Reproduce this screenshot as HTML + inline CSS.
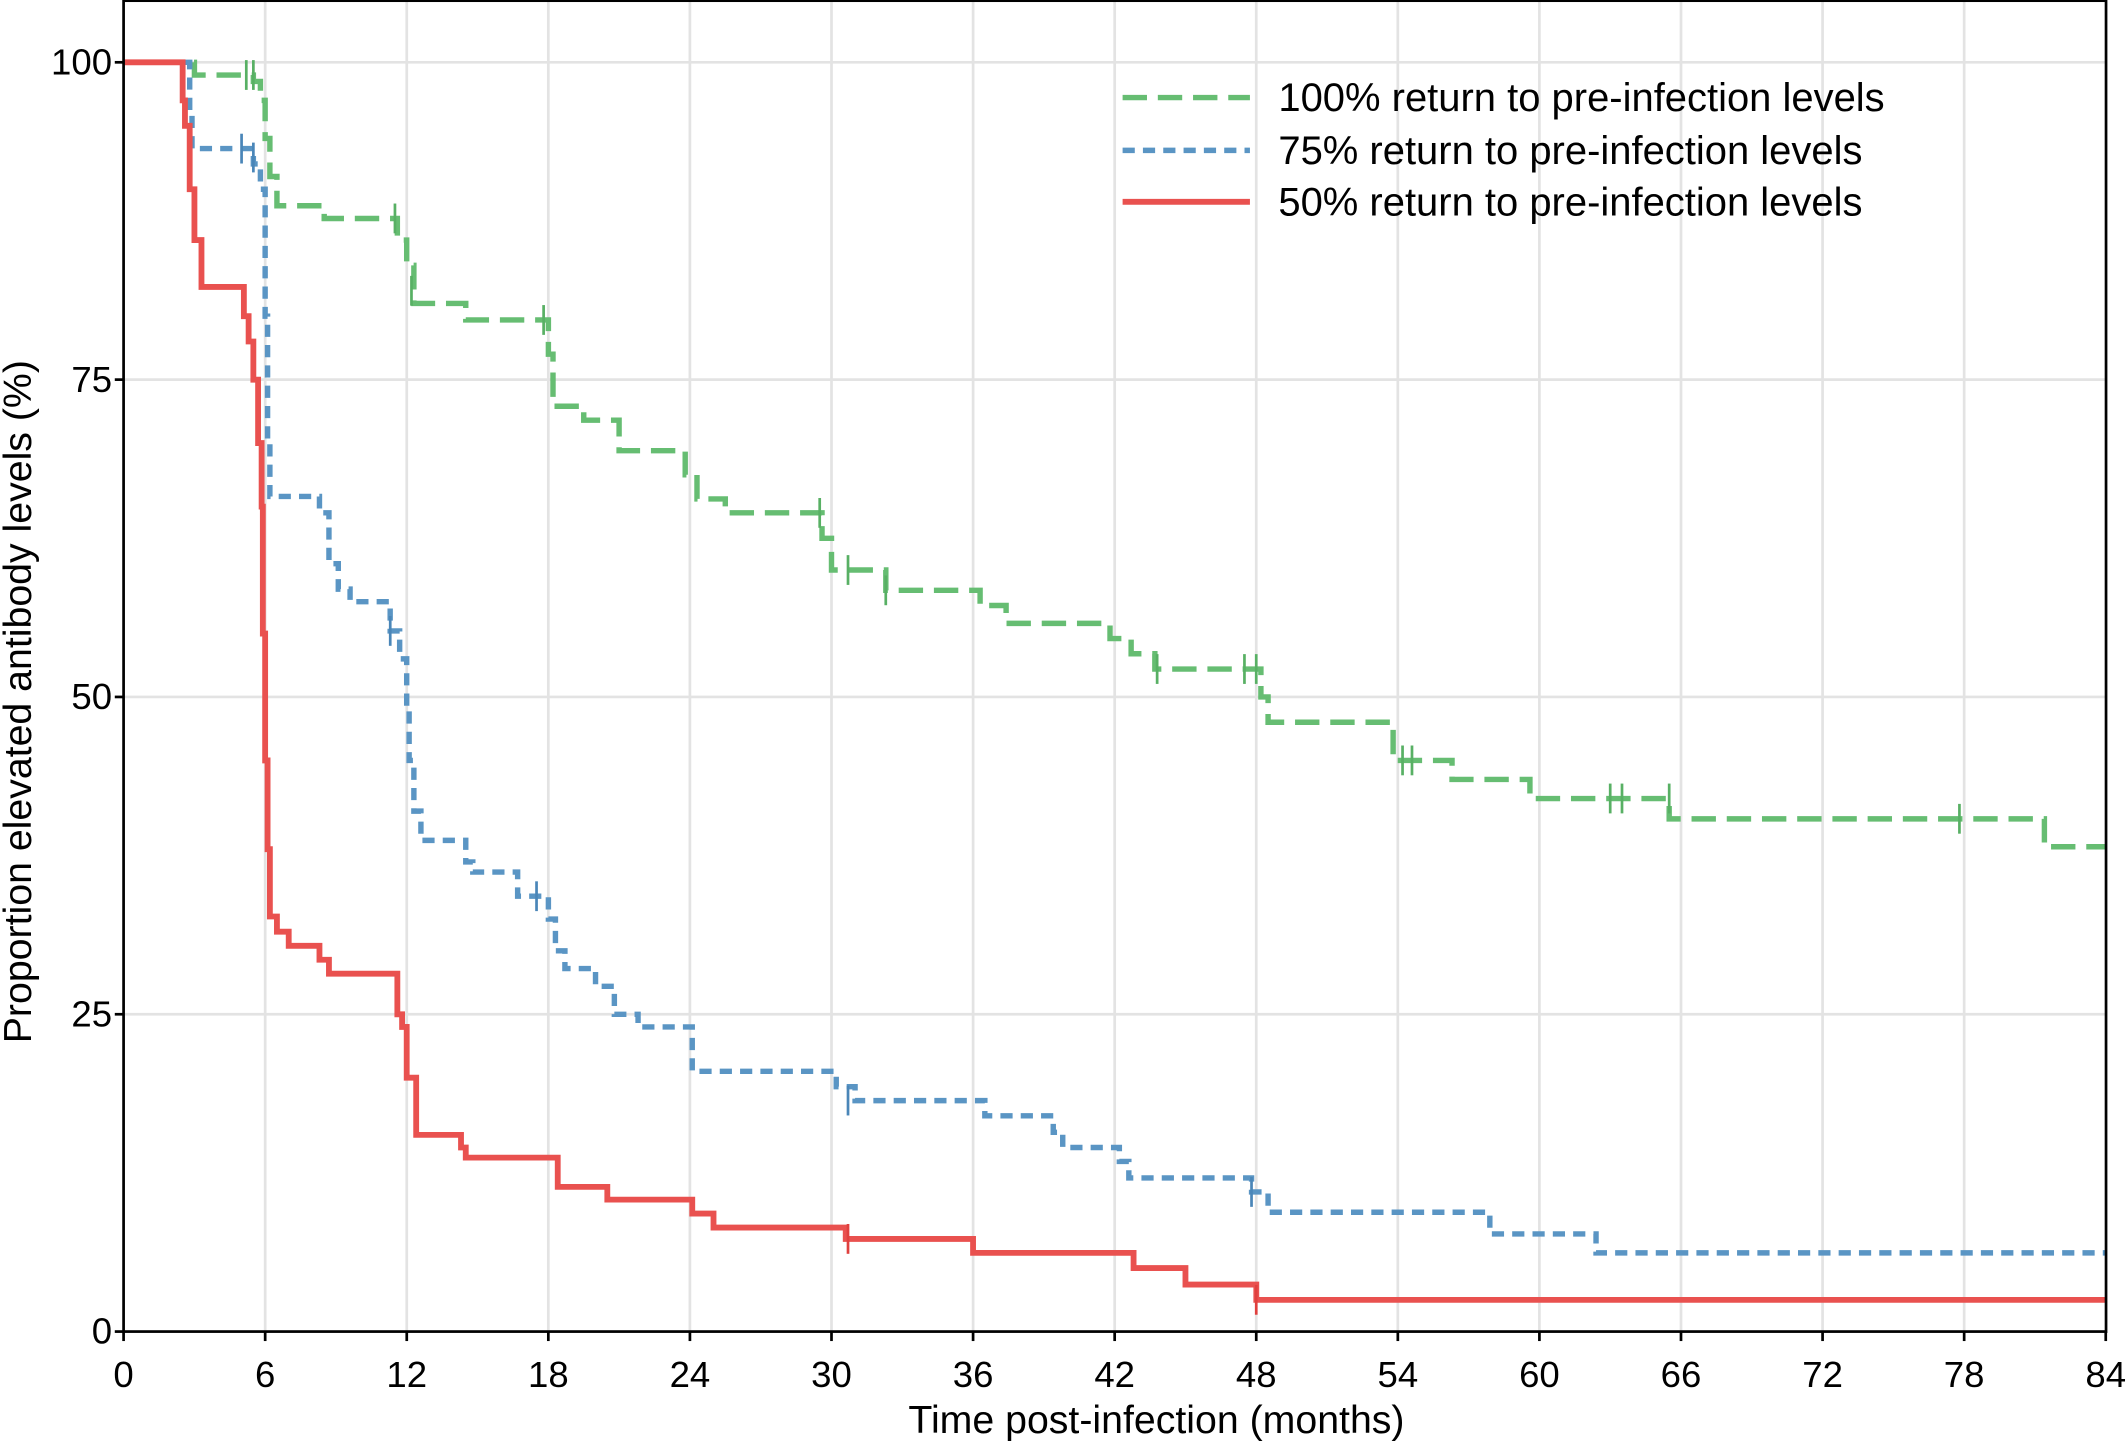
<!DOCTYPE html>
<html><head><meta charset="utf-8"><style>
html,body{margin:0;padding:0;background:#fff;}
svg{display:block;}
text{font-family:"Liberation Sans",Arial,sans-serif;fill:#000;}
</style></head><body>
<svg id="s" width="2126" height="1444" viewBox="0 0 1568 1066" xmlns="http://www.w3.org/2000/svg"></svg>
<script>
const NS="http://www.w3.org/2000/svg",S=document.getElementById('s');
const X=m=>90.5+m*17.42, Y=p=>983-p*9.37;
function el(t,a,txt){const e=document.createElementNS(NS,t);for(const k in a)e.setAttribute(k,a[k]);if(txt!==undefined)e.textContent=txt;S.appendChild(e);return e;}
for(let m=6;m<84;m+=6)el('line',{x1:X(m),x2:X(m),y1:0,y2:983,stroke:'#e3e3e3','stroke-width':2});
for(const p of [25,50,75,100])el('line',{x1:90.5,x2:1554,y1:Y(p),y2:Y(p),stroke:'#e3e3e3','stroke-width':2});
function step(pts){let d=`M${X(0)},${Y(100)}`;for(const [m,p] of pts){d+=`H${X(m).toFixed(1)}V${Y(p).toFixed(1)}`;}d+=`H${X(84)}`;return d;}
const green=[[3,99],[5.5,98.5],[5.8,97],[6,94],[6.2,91],[6.5,88.7],[8.5,87.7],[11.6,86],[12,84],[12.3,81],[14.5,79.7],[18,77],[18.2,72.9],[19.5,71.8],[21,69.4],[23.8,67.5],[24.3,65.6],[25.5,64.5],[29.6,62.5],[30,60],[32.3,58.4],[36.3,57.2],[37.4,55.8],[41.8,54.6],[42.7,53.4],[43.7,52.2],[48.2,50],[48.5,48],[53.8,45],[56.3,43.5],[59.6,42],[65.5,40.4],[81.4,38.2]];
const blue=[[2.8,96],[2.9,93.2],[5.5,92],[5.8,90],[6,80],[6.1,70],[6.2,65.8],[8.3,64.5],[8.7,60.5],[9.1,58.5],[9.6,57.5],[11.3,55.2],[11.7,53],[12,49],[12.1,45],[12.3,41],[12.6,38.7],[14.5,37],[14.8,36.2],[16.7,34.3],[18,32.5],[18.3,30],[18.7,28.6],[20,27.2],[20.8,25],[21.8,24],[24.1,20.5],[30.2,19.3],[31,18.2],[36.5,17],[39.4,15.7],[39.8,14.5],[42.2,13.4],[42.6,12.1],[47.8,11],[48.5,9.4],[57.9,7.7],[62.4,6.2]];
const red=[[2.5,97],[2.6,95],[2.8,90],[3,86],[3.3,82.3],[5.1,80],[5.3,78],[5.5,75],[5.7,70],[5.85,65],[5.9,55],[6.0,45],[6.1,38],[6.2,32.7],[6.5,31.5],[7,30.4],[8.3,29.3],[8.7,28.2],[11.6,25],[11.8,24],[12,20],[12.4,15.5],[14.3,14.5],[14.5,13.7],[18.4,11.4],[20.5,10.4],[24.1,9.3],[25,8.2],[30.6,7.3],[36,6.2],[42.8,5],[45,3.7],[48,2.5]];
el('path',{d:step(green),fill:'none',stroke:'#66bd72','stroke-width':4,'stroke-dasharray':'18 8'});
el('path',{d:step(blue),fill:'none',stroke:'#5a95c4','stroke-width':4,'stroke-dasharray':'9 6'});
el('path',{d:step(red),fill:'none',stroke:'#e9514f','stroke-width':4.3});
function ticks(list,c){for(const [m,p] of list)el('line',{x1:X(m),x2:X(m),y1:Y(p)-11,y2:Y(p)+11,stroke:c,'stroke-width':2});}
ticks([[5.2,99],[5.5,99],[11.5,87.7],[12.2,82],[17.8,79.7],[29.5,64.5],[30.7,60],[32.3,58.4],[43.8,52.2],[47.5,52.2],[48,52.2],[54.2,45],[54.6,45],[63,42],[63.5,42],[65.5,42],[77.8,40.4]],'#58b064');
ticks([[5,93.2],[5.5,92.5],[11.3,55.2],[17.5,34.3],[30.7,18.2],[47.8,11]],'#4a86b8');
ticks([[30.7,7.3],[48,2.5]],'#e0403e');
el('rect',{x:90.5,y:0.5,width:1463.5,height:982.5,fill:'none',stroke:'#000','stroke-width':2});
for(let m=0;m<=84;m+=6){el('line',{x1:X(m),x2:X(m),y1:983,y2:990,stroke:'#000','stroke-width':2});el('text',{x:X(m),y:1024,'font-size':27,'text-anchor':'middle'},String(m));}
for(const p of [0,25,50,75,100]){el('line',{x1:84,x2:90.5,y1:Y(p),y2:Y(p),stroke:'#000','stroke-width':2});el('text',{x:82,y:Y(p)+9,'font-size':27,'text-anchor':'end'},String(p));}
el('text',{x:853,y:1058,'font-size':29,'text-anchor':'middle'},'Time post-infection (months)');
el('text',{x:0,y:0,'font-size':29,'text-anchor':'middle',transform:'translate(22,518) rotate(-90)'},'Proportion elevated antibody levels (%)');
el('line',{x1:828,x2:922,y1:72,y2:72,stroke:'#66bd72','stroke-width':4,'stroke-dasharray':'18 8'});
el('line',{x1:828,x2:922,y1:111,y2:111,stroke:'#5a95c4','stroke-width':4,'stroke-dasharray':'9 6'});
el('line',{x1:828,x2:922,y1:149,y2:149,stroke:'#e9514f','stroke-width':4.3});
el('text',{x:943,y:82,'font-size':29.5},'100% return to pre-infection levels');
el('text',{x:943,y:121,'font-size':29.5},'75% return to pre-infection levels');
el('text',{x:943,y:159,'font-size':29.5},'50% return to pre-infection levels');
</script>
</body></html>
